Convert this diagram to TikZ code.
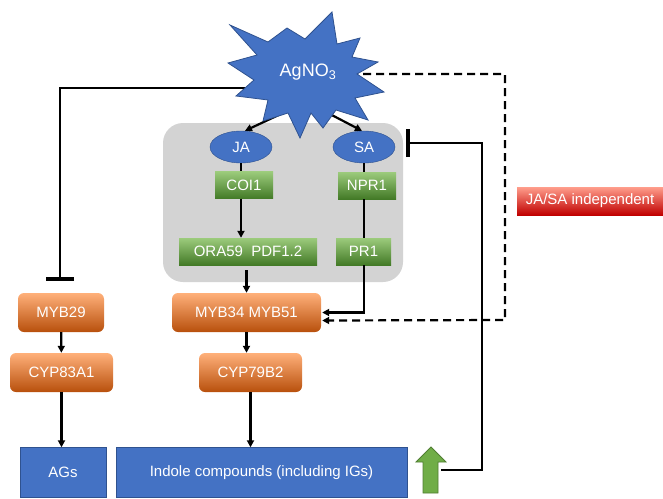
\documentclass[tikz,border=0pt]{standalone}
\usepackage{fontspec}
\setmainfont{Liberation Sans}
\usetikzlibrary{arrows.meta,shapes.geometric,calc}
\definecolor{ag01}{HTML}{4472C4}
\definecolor{ag02}{HTML}{2F528F}
\definecolor{ag03}{HTML}{D3D3D3}
\definecolor{ag04}{HTML}{FFB07A}
\definecolor{ag05}{HTML}{ED7D31}
\definecolor{ag06}{HTML}{B8500C}
\definecolor{ag07}{HTML}{9CCB7C}
\definecolor{ag08}{HTML}{6AA443}
\definecolor{ag09}{HTML}{437A27}
\definecolor{ag10}{HTML}{FF9E8C}
\definecolor{ag11}{HTML}{F22E2E}
\definecolor{ag12}{HTML}{C00000}
\definecolor{ag13}{HTML}{70AD47}
\definecolor{ag14}{HTML}{507E32}
\tikzset{
  every node/.style={font=\fontsize{15}{18}\selectfont, text=white},
  hormone/.style={ellipse, draw=ag02, fill=ag01, minimum width=62pt, minimum height=32pt, inner sep=0pt},
  gene/.style={rectangle, top color=ag07, middle color=ag08, bottom color=ag09, minimum height=27pt, inner sep=0pt},
  tf/.style={rectangle, rounded corners=6pt, top color=ag04, middle color=ag05, bottom color=ag06, minimum height=39pt, inner sep=0pt},
  product/.style={rectangle, draw=ag02, fill=ag01, minimum height=50pt, inner sep=0pt},
  act/.style={-{Triangle[length=7pt,width=7pt]}, line width=2.2pt},
  inh/.style={-{Bar[width=28pt,line width=3.5pt]}, line width=2.2pt},
}
\begin{document}
\begin{tikzpicture}[x=1pt,y=-1pt]
  \useasboundingbox (0,0) rectangle (663,498);
  % grey box round the hormone pathways
  \fill[ag03, rounded corners=20pt] (163,123) rectangle (403,282);

  \node[hormone] (ja) at (241,147) {JA};
  \node[hormone] (sa) at (364,147) {SA};
  \node[gene, minimum width=58pt] (coi) at (244,185) {COI1};
  \node[gene, minimum width=58pt] (npr) at (367,185.5) {NPR1};
  \node[gene, minimum width=138pt] (ora) at (248,251.5) {ORA59~~PDF1.2};
  \node[gene, minimum width=55pt] (pr) at (363.5,251.5) {PR1};
  \node[rectangle, top color=ag10, middle color=ag11, bottom color=ag12, minimum width=146pt, minimum height=28pt, inner sep=0pt] (indep) at (590,201) {JA/SA independent};

  \node[tf, minimum width=86pt] (myb29) at (61,312.5) {MYB29};
  \node[tf, minimum width=103pt] (cyp83) at (61.5,372.5) {CYP83A1};
  \node[tf, minimum width=149pt] (myb34) at (246.5,312.5) {MYB34 MYB51};
  \node[tf, minimum width=103pt] (cyp79) at (250.5,372.5) {CYP79B2};

  \node[product, minimum width=86pt] (ags) at (63,472.5) {AGs};
  \node[product, minimum width=291pt] (indole) at (261.5,472.5) {Indole compounds (including IGs)};

  % green up arrow
  \draw[ag14, fill=ag13, line width=0.8pt] (423,493) -- (423,462) -- (416,462) -- (431,447) -- (446,462) -- (438,462) -- (438,493) -- cycle;

  \coordinate (agw) at (250,88);
  \coordinate (age) at (350,74);
  \coordinate (agja) at (285,112);
  \coordinate (agsa) at (326,112);
  \coordinate (dashc) at (505,320);
  \coordinate (up) at (441,470);
  \coordinate (fbtop) at (482,143);
  \coordinate (fbend) at (406,143);

  % connectors
  \draw[act] (agja) -- ([xshift=4pt]ja.north);
  \draw[act] (agsa) -- ([xshift=-2pt]sa.north);
  \draw[line width=2.2pt] (ja.south) -- (ja.south |- coi.north);
  \draw[act] (ja.south |- coi.south) -- (ja.south |- ora.north);
  \draw[line width=2.2pt] (sa.south) -- (sa.south |- npr.north);
  \draw[line width=2.2pt] (sa.south |- npr.south) -- (sa.south |- pr.north);
  \draw[act] (sa.south |- pr.south) |- ([xshift=1pt]myb34.east);
  \draw[act] ([yshift=-5pt]myb34.north |- ora.south) -- (myb34.north);
  \draw[act, dash pattern=on 8pt off 5pt] (age) -| (dashc) -- ([xshift=1pt,yshift=-8pt]myb34.east);
  \draw[inh] (agw) -| ([xshift=-1pt,yshift=12pt]myb29.north);
  \draw[act] (myb29) -- (cyp83);
  \draw[act] (cyp83.south) -- (cyp83.south |- ags.north);
  \draw[act] (myb34.south) -- (myb34.south |- cyp79.north);
  \draw[act] (cyp79.south) -- (cyp79.south |- indole.north);
  \draw[inh] (up) -| (fbtop) -- (fbend);

  % AgNO3 burst
  \draw[ag02, fill=ag01, line width=0.8pt] (332,12) -- (337,44) -- (360,38) -- (352,57) -- (378,62) -- (357,74) -- (384,92) -- (355,98) -- (368,120) -- (336,110) -- (323,128) -- (311,113) -- (300,138) -- (288,113) -- (263,121) -- (268,100) -- (236,96) -- (254,80) -- (228,63) -- (257,55) -- (230,25) -- (268,42) -- (287,28) -- (305,39) -- cycle;
  \node[font=\fontsize{18}{21}\selectfont] (ag) at (308,72) {AgNO\textsubscript{3}};
\end{tikzpicture}
\end{document}
